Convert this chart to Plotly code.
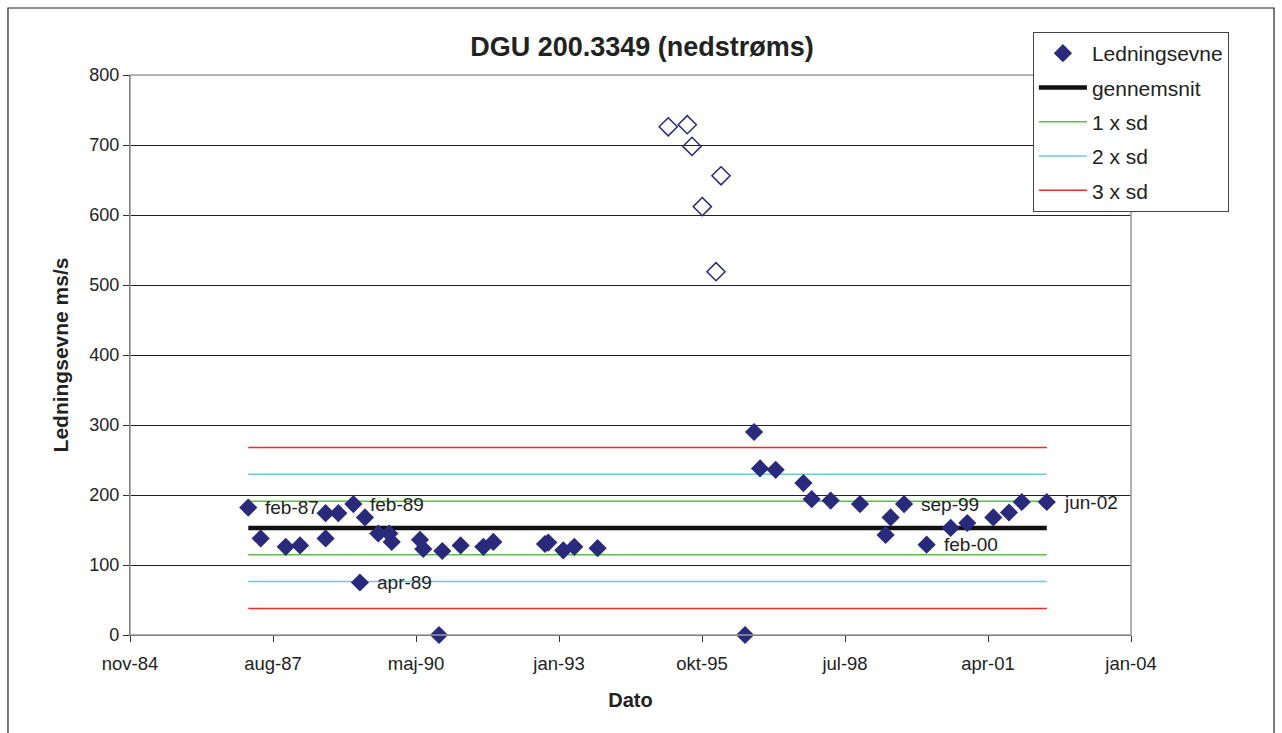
import plotly.graph_objects as go

# Ledningsevne (conductivity) samples, filled markers
dates = [
    "1987-02-19", "1987-05-17", "1987-11-08", "1988-02-16", "1988-08-13", "1988-08-13",
    "1988-11-10", "1989-02-23", "1989-04-10", "1989-05-15", "1989-08-16", "1989-11-01",
    "1989-11-18", "1990-06-04", "1990-06-27", "1990-10-15", "1990-11-07", "1991-03-15",
    "1991-08-21", "1991-10-30", "1992-10-25", "1992-11-17", "1993-03-02", "1993-05-18",
    "1993-10-28", "1996-08-24", "1996-10-26", "1996-12-07", "1997-03-26", "1997-10-06",
    "1997-12-03", "1998-04-15", "1998-11-06", "1999-05-04", "1999-06-08", "1999-09-10",
    "2000-02-15", "2000-08-01", "2000-11-25", "2001-05-26", "2001-09-13", "2001-12-11",
    "2002-06-04",
]
values = [
    182, 138, 126, 128, 174, 138,
    174, 187, 75, 168, 145, 145,
    133, 136, 123, 0, 120, 128,
    126, 133, 130, 132, 121, 126,
    124, 0, 290, 238, 236, 217,
    194, 192, 187, 143, 168, 187,
    129, 153, 160, 168, 175, 190,
    190,
]

# Samples left out of the statistics (open markers)
outlier_dates = ["1995-03-06", "1995-07-17", "1995-08-19", "1995-10-30", "1996-02-03", "1996-03-09"]
outlier_values = [726, 729, 698, 612, 519, 656]

# Mean and standard deviation bands
mean_value = 152.9
sd_value = 38.3
line_start = "1987-02-19"
line_end = "2002-06-04"

# Labelled samples
label_dates = ["1987-02-19", "1989-02-23", "1989-04-10", "1999-09-10", "2000-02-15", "2002-06-04"]
label_values = [182, 187, 75, 187, 129, 190]
label_texts = ["feb-87", "feb-89", "apr-89", "sep-99", "feb-00", "jun-02"]

# Date axis ticks (every 1000 days)
tick_dates = ["1984-11-14", "1987-08-11", "1990-05-07", "1993-01-31",
              "1995-10-28", "1998-07-24", "2001-04-19", "2004-01-14"]
tick_labels = ["nov-84", "aug-87", "maj-90", "jan-93", "okt-95", "jul-98", "apr-01", "jan-04"]

FONT = "Liberation Sans, Arial, sans-serif"
NAVY = "#2a2a7c"

fig = go.Figure()

# reference lines first so the markers sit on top of them
fig.add_trace(go.Scatter(
    x=[line_start, line_end], y=[mean_value, mean_value], mode="lines", name="gennemsnit",
    line=dict(color="#111111", width=4.5), legendgroup="b", legendrank=2,
))

band_colors = ["#5cbf45", "#6ccadb", "#ee2a2a"]
band_names = ["1 x sd", "2 x sd", "3 x sd"]
for k, (c, n) in enumerate(zip(band_colors, band_names), start=1):
    hi = mean_value + k * sd_value
    lo = mean_value - k * sd_value
    fig.add_trace(go.Scatter(
        x=[line_start, line_end, None, line_start, line_end],
        y=[hi, hi, None, lo, lo], mode="lines", name=n,
        line=dict(color=c, width=1.5), legendgroup=n, legendrank=2 + k,
    ))

fig.add_trace(go.Scatter(
    x=outlier_dates, y=outlier_values, mode="markers", showlegend=False,
    marker=dict(symbol="diamond-open", size=14, color=NAVY, line=dict(width=1.5, color=NAVY)),
    cliponaxis=False,
))
fig.add_trace(go.Scatter(
    x=dates, y=values, mode="markers", name="Ledningsevne",
    marker=dict(symbol="diamond", size=14, color=NAVY, line=dict(width=0)),
    cliponaxis=False, legendgroup="a", legendrank=1,
))

for d, v, t in zip(label_dates, label_values, label_texts):
    fig.add_annotation(
        x=d, y=v, text=t, showarrow=False, xanchor="left", yanchor="middle",
        xshift=15, font=dict(family=FONT, size=19, color="#222222"),
    )

# plot-area border (grey top/right) and outer chart frame
fig.add_shape(type="rect", xref="paper", yref="paper", x0=0, x1=1, y0=0, y1=1,
              line=dict(color="#9a9a9a", width=1.5), layer="above")
fig.add_shape(type="rect", xref="paper", yref="paper",
              x0=-0.1219, x1=1.1429, y0=-0.2, y1=1.1196,
              line=dict(color="#222222", width=1.2), layer="below")

fig.update_layout(
    width=1282, height=733,
    margin=dict(l=130, r=151, t=75, b=98),
    paper_bgcolor="white", plot_bgcolor="white",
    font=dict(family=FONT, color="#222222"),
    title=dict(
        text="<b>DGU 200.3349 (nedstrøms)</b>",
        x=0.5115, xref="paper", xanchor="center",
        y=1 - 47 / 733, yref="container", yanchor="middle",
        font=dict(family=FONT, size=27, color="#222222"),
    ),
    legend=dict(
        x=0.902, y=1.0768, xanchor="left", yanchor="top",
        bgcolor="white", bordercolor="#444444", borderwidth=1,
        font=dict(family=FONT, size=21, color="#222222"),
        tracegroupgap=4, itemwidth=48, traceorder="grouped",
    ),
    xaxis=dict(
        type="date", range=[tick_dates[0], tick_dates[-1]],
        tickmode="array", tickvals=tick_dates, ticktext=tick_labels,
        showgrid=False, zeroline=False,
        showline=True, linecolor="#333333", linewidth=1.2,
        ticks="outside", ticklen=6, tickcolor="#333333",
        ticklabelstandoff=6,
        tickfont=dict(family=FONT, size=18.5, color="#222222"),
        title=dict(text="<b>Dato</b>", standoff=19,
                   font=dict(family=FONT, size=20, color="#222222")),
    ),
    yaxis=dict(
        range=[0, 800], dtick=100, tick0=0,
        showgrid=True, gridcolor="#222222", gridwidth=1,
        zeroline=False,
        showline=True, linecolor="#333333", linewidth=1.2,
        ticks="outside", ticklen=6, tickcolor="#333333",
        tickfont=dict(family=FONT, size=18, color="#222222"),
        title=dict(text="<b>Ledningsevne ms/s</b>", standoff=14,
                   font=dict(family=FONT, size=21, color="#222222")),
    ),
)

fig.write_html("out.html")
